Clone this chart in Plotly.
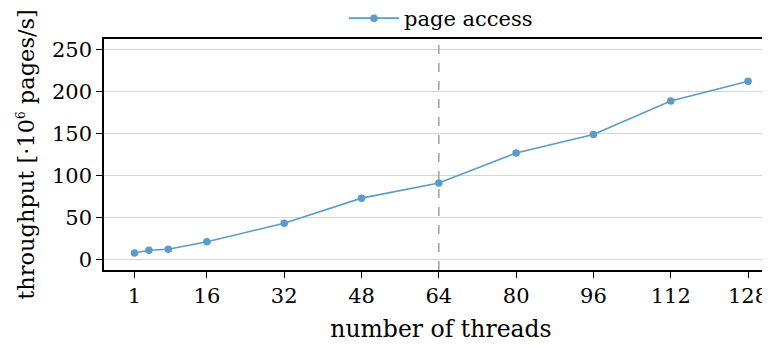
import plotly.graph_objects as go

threads = [1, 4, 8, 16, 32, 48, 64, 80, 96, 112, 128]
throughput = [7.5, 10.7, 12.0, 21.0, 43.0, 73.0, 91.0, 127.0, 149.0, 189.0, 212.5]
x_ticks = [1, 16, 32, 48, 64, 80, 96, 112, 128]
y_ticks = [0, 50, 100, 150, 200, 250]
marker_x = 64

FONT = "DejaVu Serif"
COLOR = "#5a9bc9"

fig = go.Figure()
fig.add_trace(go.Scatter(
    x=threads, y=throughput, mode="lines+markers", name="page access",
    line=dict(color=COLOR, width=1.6),
    marker=dict(color=COLOR, size=7.5),
))
fig.add_vline(x=marker_x, line=dict(color="#a0a0a0", width=1.5, dash="dash"))

fig.update_layout(
    width=770, height=346,
    margin=dict(l=96, r=0, t=31, b=84, autoexpand=False),
    paper_bgcolor="white", plot_bgcolor="white",
    font=dict(family=FONT, color="black", size=21),
    showlegend=True,
    legend=dict(orientation="h", x=0.5, xanchor="center", xref="paper",
                y=1.0, yanchor="bottom", font=dict(size=21), itemwidth=50,
                bgcolor="rgba(0,0,0,0)", borderwidth=0),
)
fig.update_xaxes(
    range=[-5.3, 134.2], tickvals=x_ticks, ticktext=[str(v) for v in x_ticks],
    showgrid=False, zeroline=False, automargin=False,
    showline=True, linecolor="black", linewidth=1.6, mirror=True,
    ticks="outside", ticklen=6, tickwidth=1.4, tickcolor="black",
    tickfont=dict(size=21),
    title=dict(text="number of threads", font=dict(size=23.5), standoff=14),
)
fig.update_yaxes(
    range=[-12.8, 263], tickvals=y_ticks,
    showgrid=True, gridcolor="#d4d4d4", gridwidth=1.4, zeroline=False, automargin=False,
    showline=True, linecolor="black", linewidth=1.6,
    ticks="outside", ticklen=6, tickwidth=1.4, tickcolor="black",
    tickfont=dict(size=21),
    title=dict(text="throughput [·10<sup><span style='font-size:12px'>6</span></sup> pages/s]",
               font=dict(size=22.5), standoff=11),
)

fig.write_html("out.html")
